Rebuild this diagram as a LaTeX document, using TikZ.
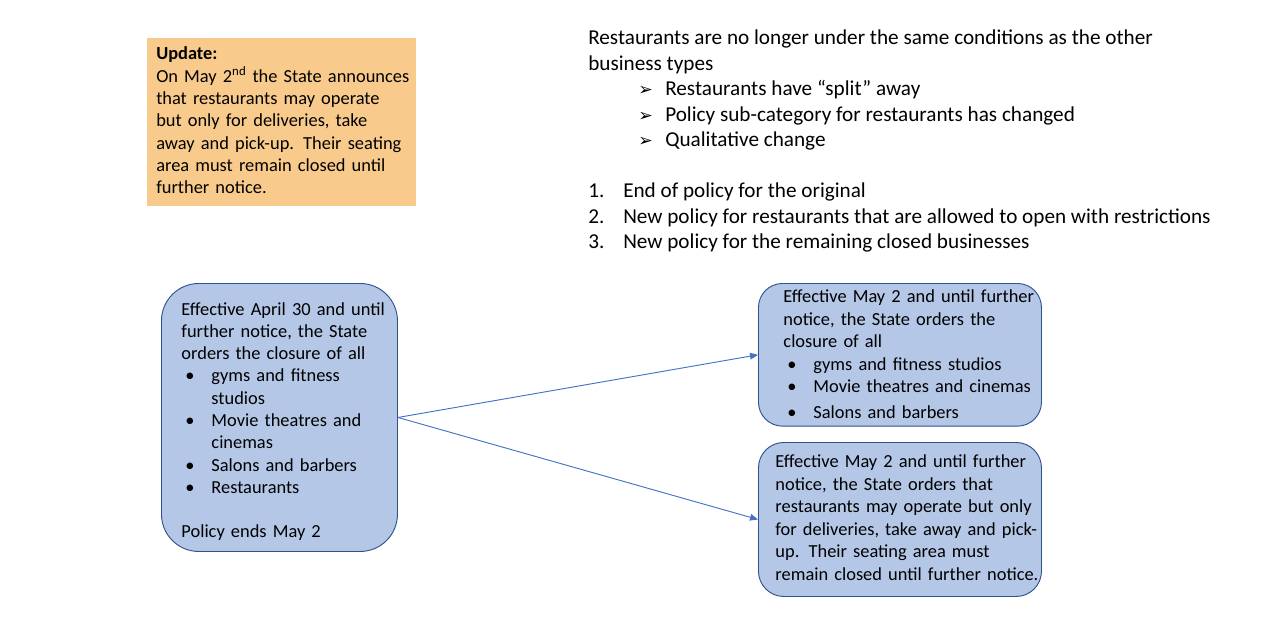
\documentclass[tikz,border=0pt]{standalone}
\usepackage{fontspec}
\setmainfont{Carlito}
\newfontfamily\symf{DejaVu Sans}
\usetikzlibrary{arrows.meta,positioning}
\definecolor{boxblue}{HTML}{B4C7E7}
\definecolor{lineblue}{HTML}{2F528F}
\definecolor{arrowblue}{HTML}{4472C4}
\definecolor{notefill}{HTML}{F8CB8C}
\newcommand{\bitem}[1]{\hspace*{3pt}\makebox[19.5pt][l]{\textbullet}#1}
\newcommand{\bcont}[1]{\hspace*{22.5pt}#1}
\newcommand{\aitem}[1]{\hspace*{37.5pt}\makebox[20.25pt][l]{\symf\fontsize{13pt}{13pt}\selectfont ➢}#1}
\newcommand{\nitem}[2]{\makebox[26.25pt][l]{#1}#2}
\newcommand{\lines}[1]{\begin{tabular}{@{}l@{}}#1\end{tabular}}

\begin{document}
\begin{tikzpicture}[
    x=0.75pt, y=-0.75pt,
    box/.style={draw=lineblue, fill=boxblue, line width=0.7pt, anchor=north west, align=left, inner ysep=0pt, font=\fontsize{13.8pt}{16.9pt}\selectfont},
    arrow/.style={-{Triangle[length=6pt,width=5pt]}, draw=arrowblue, line width=0.7pt}
]
\useasboundingbox (0,0) rectangle (1280,639);
\node[anchor=north west, fill=notefill, align=left, inner xsep=6.75pt, inner ysep=0pt,
      text width=188pt, minimum height=126pt, font=\fontsize{13.8pt}{16.7pt}\selectfont] (update) at (147,38)
  {\lines{\textbf{Update:}\\On May 2\textsuperscript{nd} the State announces\\that restaurants may operate\\but only for deliveries, take\\away and pick-up. Their seating\\area must remain closed until\\further notice.}};
\node[anchor=north west, inner sep=0pt, align=left, font=\fontsize{15.9pt}{19.1pt}\selectfont] (notes) at (588,30)
  {Restaurants are no longer under the same conditions as the other\\
   business types\\
   \aitem{Restaurants have “split” away}\\
   \aitem{Policy sub-category for restaurants has changed}\\
   \aitem{Qualitative change}\\[19.1pt]
   \nitem{1.}{End of policy for the original}\\
   \nitem{2.}{New policy for restaurants that are allowed to open with restrictions}\\
   \nitem{3.}{New policy for the remaining closed businesses}};
\node[box, rounded corners=28pt, inner xsep=15pt, text width=147pt, minimum height=201pt,
      font=\fontsize{13.8pt}{16.7pt}\selectfont] (orig) at (161,283)
  {\lines{\rule{0pt}{18.5pt}Effective April 30 and until\\further notice, the State\\orders the closure of all\\
   \bitem{gyms and fitness}\\\bcont{studios}\\
   \bitem{Movie theatres and}\\\bcont{cinemas}\\
   \bitem{Salons and barbers}\\
   \bitem{Restaurants}\\[16.7pt]
   Policy ends May 2}};
\node[box, rounded corners=18pt, inner xsep=18.75pt, text width=174.75pt, minimum height=107pt] (closed) at (758,283)
  {\lines{\rule{0pt}{14.1pt}Effective May 2 and until further\\notice, the State orders the\\closure of all\\
   \bitem{gyms and fitness studios}\\
   \bitem{Movie theatres and cinemas}\\[2.5pt]
   \bitem{Salons and barbers}}};
\node[box, rounded corners=19pt, inner xsep=12.75pt, text width=186.75pt, minimum height=115.5pt] (rest) at (758,442)
  {\lines{Effective May 2 and until further\\notice, the State orders that\\restaurants may operate but only\\for deliveries, take away and pick-\\up. Their seating area must\\remain closed until further notice.}};
\draw[arrow] (orig.east) -- (closed.west);
\draw[arrow] (orig.east) -- (rest.west);
\end{tikzpicture}
\end{document}
